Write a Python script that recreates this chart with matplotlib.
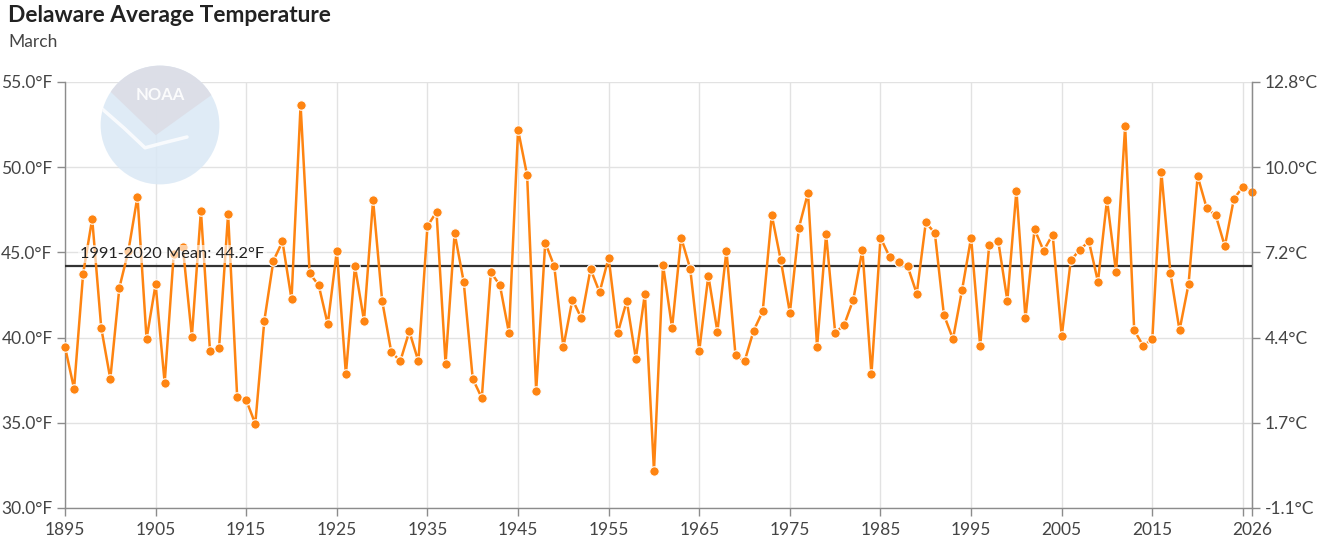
import numpy as np
import matplotlib.pyplot as plt
from matplotlib.patches import Circle, Polygon

plt.rcParams['font.family'] = ['Lato', 'DejaVu Sans']

# March average temperature, Delaware (deg F)
years = list(range(1895, 2027))
temps_f = [
    39.45, 37.0, 43.75, 46.97, 40.57, 37.58, 42.93, 45.1, 48.28, 39.92,
    43.13, 37.34, 44.9, 45.33, 40.06, 47.44, 39.24, 39.38, 47.25, 36.54,
    36.33, 34.94, 41.0, 44.51, 45.64, 42.25, 53.65, 43.77, 43.07, 40.78,
    45.1, 37.85, 44.18, 41.0, 48.07, 42.17, 39.18, 38.61, 40.37, 38.61,
    46.54, 47.38, 38.48, 46.13, 43.28, 37.58, 36.46, 43.83, 43.07, 40.27,
    52.19, 49.53, 36.88, 45.57, 44.18, 39.45, 42.23, 41.13, 44.02, 42.66,
    44.69, 40.27, 42.15, 38.77, 42.58, 32.17, 44.26, 40.57, 45.86, 44.04,
    39.24, 43.63, 40.35, 45.1, 38.96, 38.61, 40.41, 41.54, 47.19, 44.53,
    41.46, 46.46, 48.5, 39.45, 46.07, 40.27, 40.76, 42.23, 45.16, 37.85,
    45.86, 44.75, 44.45, 44.18, 42.58, 46.76, 46.13, 41.33, 39.92, 42.79,
    45.86, 39.51, 45.43, 45.64, 42.17, 48.63, 41.13, 46.35, 45.1, 46.05,
    40.08, 44.53, 45.16, 45.64, 43.28, 48.09, 43.83, 52.4, 40.43, 39.51,
    39.92, 49.69, 43.77, 40.43, 43.14, 49.47, 47.6, 47.17, 45.37, 48.14,
    48.85, 48.57,
]
mean_1991_2020 = 44.2

y_ticks_f = [30, 35, 40, 45, 50, 55]
x_ticks = list(range(1895, 2026, 10)) + [2026]
x_labels = [str(y) for y in range(1895, 2016, 10)] + ['', '2026']

orange = '#fe8411'
label_color = '#444444'

fig = plt.figure(figsize=(13.2, 5.5), dpi=100)
ax = fig.add_axes([65 / 1320, 1 - 508 / 550, (1252 - 65) / 1320, (508 - 82) / 550])

ax.plot(years, temps_f, color=orange, lw=1.8, marker='o', markersize=6.8,
        markerfacecolor=orange, markeredgecolor='white', markeredgewidth=0.8,
        zorder=4, clip_on=False)

ax.axhline(mean_1991_2020, color='#333333', lw=1.6, zorder=3)
ax.text(1896.7, mean_1991_2020 + 0.3, f'1991-2020 Mean: {mean_1991_2020}°F',
        fontsize=11.8, color='#222222', va='bottom', ha='left', zorder=5,
        bbox=dict(facecolor='white', edgecolor='none', alpha=0.6, pad=1.5))

ax.set_xlim(1895, 2026)
ax.set_ylim(30, 55)
ax.set_xticks(x_ticks)
ax.set_xticklabels(x_labels)
ax.set_yticks(y_ticks_f)
ax.set_yticklabels([f'{v:.1f}°F' for v in y_ticks_f])
ax.grid(True, color='#e2e2e2', lw=1.0, zorder=0)
ax.set_axisbelow(True)

ax.spines['top'].set_visible(False)
for side in ['left', 'bottom', 'right']:
    ax.spines[side].set_color('#8c8c8c')
    ax.spines[side].set_linewidth(1.0)

ax.tick_params(axis='both', colors='#8c8c8c', labelcolor=label_color,
               labelsize=12.5, length=6, width=1.0)
ax.tick_params(axis='x', pad=4)
ax.tick_params(axis='y', pad=3)

# Celsius axis on the right, same gridlines
ax2 = ax.twinx()
ax2.set_ylim(ax.get_ylim())
ax2.set_yticks(y_ticks_f)
ax2.set_yticklabels([f'{(v - 32) * 5 / 9:.1f}°C' for v in y_ticks_f])
ax2.tick_params(axis='y', colors='#8c8c8c', labelcolor=label_color,
                labelsize=12.5, length=6, width=1.0, pad=3)
for side in ['top', 'left', 'bottom']:
    ax2.spines[side].set_visible(False)
ax2.spines['right'].set_color('#8c8c8c')

# faded NOAA logo
lax = fig.add_axes([(160 - 60) / 1320, 1 - (125 + 60) / 550, 120 / 1320, 120 / 550])
lax.set_xlim(-1, 1)
lax.set_ylim(-1, 1)
lax.set_aspect('equal')
lax.axis('off')
lax.patch.set_alpha(0)
disc = Circle((0, 0), 0.99, facecolor='#dae8f5', edgecolor='none', alpha=0.85)
lax.add_patch(disc)
ang = np.linspace(np.radians(30), np.radians(145), 40)
top = [(np.cos(a), np.sin(a)) for a in ang]
gray = Polygon(top + [(-0.83, 0.56), (-0.07, -0.17), (0.86, 0.5)],
               closed=True, facecolor='#dcdde6', edgecolor='none', alpha=0.9)
gray.set_clip_path(disc)
lax.add_patch(gray)
gull, = lax.plot([-1.0, -0.6, -0.25, 0.05, 0.45], [0.3, -0.05, -0.38, -0.3, -0.2],
                 color='white', lw=2.5, solid_capstyle='round', alpha=0.8)
gull.set_clip_path(disc)
lax.text(0, 0.5, 'NOAA', color='white', fontsize=12, fontweight='bold',
         ha='center', va='center', alpha=0.9)

fig.text(8 / 1320, 1 - 16 / 550, 'Delaware Average Temperature', fontsize=16.4,
         fontweight='bold', color='#222222', ha='left', va='center')
fig.text(8 / 1320, 1 - 42 / 550, 'March', fontsize=12.5, color='#444444',
         ha='left', va='center')

fig.savefig('out.png', dpi=100)
